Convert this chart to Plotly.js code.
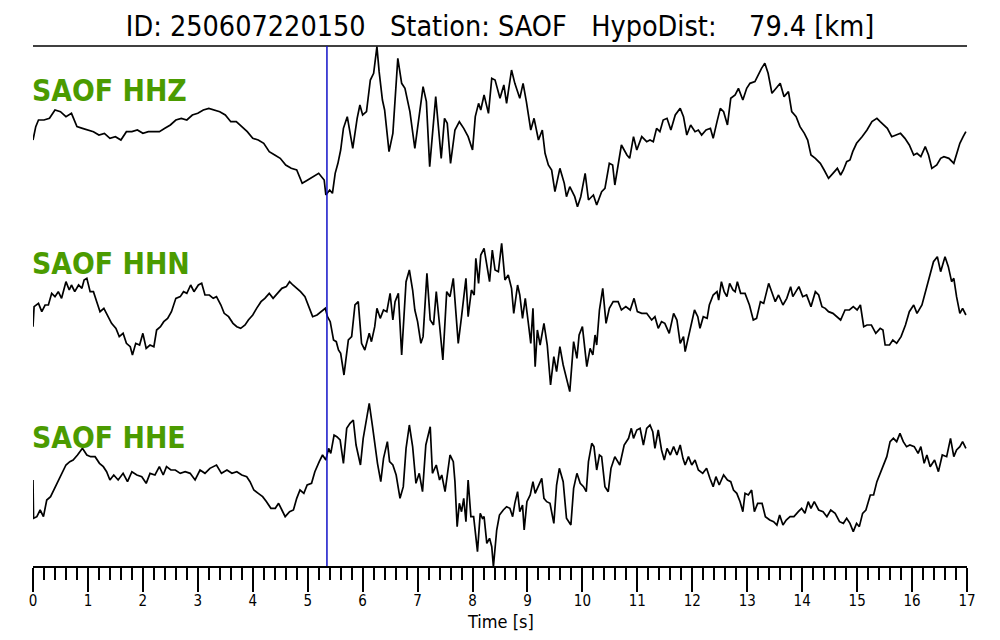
<!DOCTYPE html>
<html>
<head>
<meta charset="utf-8">
<script src="https://cdn.plot.ly/plotly-3.0.1.min.js"></script>
<style>html,body{margin:0;padding:0;background:#fff;}#chart{width:1000px;height:640px;}</style>
</head>
<body>
<div id="chart"></div>
<script>
// ---- data ----
const eventId = "250607220150";
const station = "SAOF";
const hypoDistKm = 79.4;
const channels = ["HHZ", "HHN", "HHE"];
const pPickTime = 5.35;
const xTicks = [0,1,2,3,4,5,6,7,8,9,10,11,12,13,14,15,16,17];

const hhzT = [0,0.05,0.1,0.2,0.3,0.4,0.5,0.6,0.7,0.8,0.9,1.0,1.1,1.2,1.3,1.4,1.5,1.6,1.7,1.8,1.9,2.0,2.1,2.2,2.3,2.4,2.5,2.6,2.7,2.8,2.9,3.0,3.1,3.2,3.3,3.4,3.5,3.6,3.7,3.8,3.9,4.0,4.1,4.2,4.3,4.4,4.5,4.6,4.7,4.8,4.9,5.0,5.1,5.2,5.3,5.33,5.4,5.45,5.5,5.55,5.6,5.65,5.72,5.82,5.9,5.95,6.0,6.07,6.14,6.2,6.26,6.3,6.36,6.4,6.48,6.55,6.64,6.71,6.77,6.86,6.95,7.04,7.1,7.16,7.22,7.33,7.43,7.49,7.54,7.6,7.68,7.76,7.84,7.92,8.0,8.05,8.11,8.15,8.21,8.29,8.35,8.41,8.5,8.57,8.62,8.71,8.77,8.86,8.92,8.98,9.06,9.12,9.2,9.27,9.32,9.38,9.44,9.5,9.59,9.67,9.71,9.77,9.86,9.91,9.97,10.05,10.11,10.2,10.26,10.35,10.41,10.49,10.55,10.59,10.65,10.71,10.81,10.86,10.93,10.99,11.08,11.17,11.23,11.29,11.35,11.41,11.47,11.54,11.61,11.69,11.78,11.84,11.9,11.97,12.05,12.11,12.17,12.25,12.33,12.38,12.45,12.51,12.57,12.64,12.7,12.78,12.84,12.92,12.99,13.05,13.14,13.2,13.26,13.32,13.38,13.45,13.52,13.6,13.67,13.75,13.81,13.89,13.96,14.04,14.1,14.16,14.24,14.33,14.4,14.48,14.56,14.64,14.7,14.75,14.81,14.87,14.92,14.99,15.09,15.18,15.27,15.36,15.42,15.48,15.55,15.63,15.72,15.79,15.87,15.95,16.03,16.09,16.16,16.24,16.3,16.36,16.45,16.52,16.58,16.67,16.76,16.81,16.87,16.93,16.98];
const hhzA = [-40,0,20,20,25,50,45,30,40,0,-5,-10,-15,-25,-20,-35,-30,-40,-15,-15,-10,-20,-15,-15,-15,-5,5,20,25,20,35,40,50,55,50,45,35,15,15,0,-15,-35,-40,-50,-75,-85,-95,-115,-125,-130,-170,-160,-150,-140,-160,-205,-190,-200,-140,-110,-70,-5,30,-65,25,65,35,45,140,160,240,165,80,50,-75,-20,205,130,115,45,-65,40,120,75,-120,90,-95,25,10,-110,-10,15,-5,-30,-70,30,70,50,95,40,145,140,85,125,70,170,130,85,130,75,-10,25,-40,-10,-80,-115,-130,-195,-125,-170,-210,-180,-210,-240,-210,-140,-220,-205,-235,-195,-185,-110,-115,-175,-110,-55,-85,-95,-30,-70,-30,-45,-40,-45,-5,-15,20,25,-10,35,55,30,-25,5,-15,-10,-25,-10,-5,-35,15,55,45,5,85,95,115,80,115,130,135,155,175,190,160,100,115,130,90,105,45,30,0,-20,-40,-85,-95,-110,-130,-155,-140,-125,-145,-130,-105,-100,-75,-50,-30,-10,15,25,15,5,-5,-30,-25,-20,-35,-55,-85,-80,-90,-60,-85,-125,-115,-95,-90,-95,-110,-85,-50,-30,-15];

const hhnT = [0,0.02,0.1,0.16,0.22,0.28,0.34,0.4,0.46,0.52,0.6,0.66,0.7,0.76,0.83,0.89,0.93,0.98,1.04,1.1,1.16,1.22,1.29,1.35,1.43,1.51,1.57,1.64,1.7,1.77,1.81,1.87,1.94,2.0,2.06,2.13,2.2,2.25,2.32,2.38,2.45,2.52,2.6,2.68,2.74,2.8,2.87,2.93,3.01,3.07,3.13,3.21,3.28,3.34,3.42,3.48,3.56,3.64,3.71,3.78,3.86,3.92,4.0,4.07,4.15,4.22,4.3,4.37,4.45,4.53,4.61,4.67,4.73,4.8,4.87,4.95,5.01,5.09,5.17,5.24,5.32,5.36,5.41,5.47,5.52,5.56,5.6,5.66,5.71,5.74,5.8,5.86,5.92,5.98,6.04,6.12,6.16,6.22,6.26,6.32,6.38,6.44,6.5,6.55,6.59,6.65,6.71,6.79,6.85,6.91,6.95,7.0,7.06,7.1,7.17,7.23,7.29,7.34,7.4,7.46,7.53,7.59,7.65,7.74,7.8,7.88,7.92,7.98,8.03,8.06,8.11,8.15,8.21,8.26,8.31,8.36,8.41,8.47,8.53,8.59,8.65,8.71,8.75,8.82,8.86,8.91,8.96,9.02,9.06,9.1,9.14,9.18,9.23,9.3,9.36,9.42,9.48,9.53,9.59,9.65,9.71,9.77,9.84,9.9,9.94,10.0,10.08,10.14,10.19,10.23,10.26,10.31,10.37,10.43,10.49,10.56,10.65,10.71,10.79,10.87,10.94,11.0,11.08,11.17,11.26,11.32,11.38,11.44,11.5,11.58,11.66,11.72,11.78,11.84,11.87,11.93,11.99,12.04,12.1,12.14,12.2,12.27,12.31,12.38,12.45,12.48,12.53,12.58,12.63,12.68,12.74,12.78,12.82,12.88,12.96,13.04,13.11,13.17,13.24,13.3,13.39,13.45,13.51,13.57,13.65,13.72,13.79,13.83,13.94,14.01,14.08,14.16,14.24,14.3,14.36,14.42,14.48,14.56,14.63,14.7,14.78,14.86,14.93,15.0,15.06,15.12,15.18,15.26,15.34,15.42,15.47,15.51,15.59,15.65,15.72,15.8,15.88,15.95,16.03,16.09,16.18,16.26,16.33,16.39,16.46,16.52,16.6,16.66,16.72,16.76,16.81,16.87,16.92,16.98];
const hhnA = [-30,30,40,15,35,35,70,60,75,55,105,80,95,75,95,85,110,115,75,75,45,15,25,5,-20,-35,-60,-50,-80,-90,-115,-80,-85,-50,-95,-85,-90,-40,-30,-15,-5,15,55,60,75,70,95,75,95,100,65,65,55,60,35,10,0,-20,-30,-35,-25,-10,5,25,45,55,70,55,70,85,90,105,95,85,75,60,35,0,5,15,25,0,-15,-70,-75,-100,-110,-175,-110,-70,-60,35,45,-80,-100,-50,-75,-30,25,-5,20,15,70,-10,45,70,-115,105,140,80,20,-15,-80,-60,130,-10,-25,75,-25,-130,75,60,115,-80,0,115,0,80,65,175,100,185,205,150,105,200,140,135,220,110,125,85,10,95,65,-5,55,-25,-80,25,-150,-40,-85,-20,-85,-205,-120,-165,-90,-145,-190,-225,-75,-125,-55,-30,-150,-95,-115,-55,-85,20,85,-20,25,45,45,20,30,20,55,15,10,10,-10,0,-35,-15,-20,-50,10,-10,-80,-60,-105,-60,-25,20,0,-35,0,-5,35,65,75,50,105,75,60,100,80,75,105,70,70,35,-10,-5,45,40,100,75,45,65,35,55,90,60,90,60,65,30,75,65,30,25,15,10,0,-10,20,20,30,20,35,-30,-25,-25,-50,-35,-40,-85,-85,-70,-80,-60,-25,15,35,10,35,85,130,165,180,135,180,150,105,115,60,10,25,5];

const hheT = [0,0.01,0.07,0.13,0.19,0.25,0.32,0.38,0.46,0.52,0.6,0.67,0.73,0.81,0.9,0.98,1.05,1.13,1.21,1.28,1.34,1.4,1.47,1.55,1.64,1.72,1.8,1.89,1.98,2.06,2.13,2.22,2.3,2.37,2.43,2.51,2.59,2.68,2.77,2.86,2.95,3.04,3.13,3.22,3.34,3.43,3.53,3.62,3.71,3.8,3.89,3.95,4.02,4.1,4.18,4.25,4.33,4.41,4.47,4.53,4.59,4.67,4.74,4.8,4.86,4.93,4.99,5.07,5.13,5.21,5.27,5.33,5.38,5.42,5.48,5.53,5.59,5.65,5.71,5.77,5.83,5.88,5.96,6.01,6.07,6.12,6.18,6.23,6.27,6.33,6.38,6.45,6.49,6.55,6.61,6.68,6.74,6.79,6.85,6.91,6.97,7.03,7.09,7.15,7.23,7.27,7.34,7.4,7.44,7.5,7.53,7.59,7.65,7.68,7.72,7.76,7.8,7.84,7.88,7.92,7.97,8.02,8.09,8.14,8.18,8.21,8.26,8.31,8.35,8.38,8.44,8.49,8.56,8.62,8.68,8.73,8.77,8.82,8.86,8.91,8.94,8.99,9.05,9.1,9.14,9.2,9.26,9.3,9.35,9.41,9.48,9.53,9.58,9.65,9.71,9.79,9.84,9.9,9.96,10.02,10.07,10.11,10.17,10.21,10.26,10.31,10.35,10.41,10.47,10.52,10.59,10.68,10.76,10.84,10.89,10.93,10.99,11.05,11.11,11.17,11.23,11.28,11.32,11.38,11.44,11.49,11.54,11.6,11.66,11.72,11.78,11.83,11.87,11.93,11.99,12.05,12.11,12.19,12.26,12.32,12.38,12.43,12.49,12.57,12.64,12.7,12.75,12.81,12.87,12.92,12.96,13.02,13.08,13.13,13.19,13.27,13.33,13.41,13.48,13.54,13.59,13.65,13.71,13.78,13.85,13.93,13.99,14.05,14.11,14.16,14.22,14.3,14.38,14.45,14.52,14.6,14.68,14.75,14.81,14.87,14.93,14.99,15.04,15.1,15.16,15.24,15.3,15.36,15.42,15.48,15.54,15.6,15.66,15.72,15.78,15.84,15.9,15.96,16.04,16.11,16.16,16.22,16.27,16.33,16.41,16.48,16.55,16.63,16.7,16.76,16.81,16.87,16.92,16.98];
const hheA = [5,-110,-105,-85,-105,-55,-45,-25,0,20,50,60,65,80,100,80,75,75,55,45,30,5,20,5,25,0,30,20,15,-5,25,20,45,20,45,35,35,25,30,25,5,35,25,40,50,25,35,25,30,20,15,0,-25,-35,-45,-60,-80,-80,-65,-85,-105,-90,-85,-50,-25,-35,-10,-5,30,60,80,65,100,85,140,135,125,55,160,175,185,110,50,130,190,235,165,100,55,0,70,120,60,50,20,-50,-15,100,170,105,-5,25,-30,110,165,25,50,5,20,-30,5,80,60,0,-135,-65,-90,-50,-120,5,-105,-105,-210,-95,-110,-105,-185,-170,-195,-255,-145,-100,-85,-75,-80,-105,-65,-30,-90,-70,-145,-60,-40,0,-35,-10,10,-50,-60,-65,-125,-10,40,0,-110,-130,-20,25,-5,-15,-30,60,115,105,35,80,75,-15,-30,40,75,50,110,130,160,130,155,160,110,160,170,150,100,155,95,65,100,80,105,80,110,70,50,75,50,65,35,25,40,10,-15,15,-10,20,5,0,-25,-35,-60,-90,-35,-40,-25,-90,-65,-65,-105,-115,-120,-130,-100,-130,-115,-105,-105,-90,-80,-95,-60,-80,-60,-85,-90,-105,-85,-95,-120,-125,-110,-125,-150,-125,-135,-95,-85,-40,-40,0,25,50,75,120,130,120,145,120,105,110,105,85,105,55,80,45,65,30,80,75,130,75,95,105,120,100];

// ---- layout helpers (positions/styles) ----
const offsets = [1318, 748, 253];
const series = [[hhzT, hhzA], [hhnT, hhnA], [hheT, hheA]];
const green = '#4b9b00';
const condensed = '"DejaVu Sans Condensed", "DejaVu Sans", sans-serif';

const traces = series.map((s, i) => ({
  x: s[0],
  y: s[1].map(v => v + offsets[i]),
  type: 'scatter',
  mode: 'lines',
  line: {color: '#000', width: 1.7},
  hoverinfo: 'skip',
  showlegend: false
}));

const labelY = [0.9135, 0.5808, 0.2471];
const annotations = channels.map((c, i) => ({
  text: station + ' ' + c,
  xref: 'paper', yref: 'paper',
  x: 0, y: labelY[i], xshift: -3,
  xanchor: 'left', yanchor: 'middle',
  showarrow: false,
  font: {family: condensed, size: 29.8, color: green, weight: 'bold'}
}));
annotations.push({
  text: 'Time [s]',
  xref: 'paper', yref: 'paper',
  x: 0.5, y: -0.106,
  xanchor: 'center', yanchor: 'middle',
  showarrow: false,
  font: {family: condensed, size: 18, color: '#000'}
});

const layout = {
  width: 1000, height: 640,
  paper_bgcolor: '#fff', plot_bgcolor: '#fff',
  margin: {l: 33, r: 33, t: 46, b: 74},
  title: {
    text: 'ID: ' + eventId + '   Station: ' + station + '   HypoDist:    ' + hypoDistKm.toFixed(1) + ' [km]',
    font: {family: condensed, size: 28.5, color: '#000'},
    x: 0.5, xanchor: 'center', y: 0.96, yref: 'container', yanchor: 'middle'
  },
  xaxis: {
    range: [0, 17],
    tickvals: xTicks,
    ticktext: xTicks.map(String),
    ticks: 'outside', ticklen: 24, tickwidth: 2, tickcolor: '#000',
    minor: {dtick: 0.2, ticks: 'outside', ticklen: 12, tickwidth: 2, tickcolor: '#000', showgrid: false},
    showline: true, linecolor: '#000', linewidth: 2,
    showgrid: false, zeroline: false,
    tickfont: {family: condensed, size: 15, color: '#000'},
    ticklabelstandoff: -4,
    fixedrange: true
  },
  yaxis: {
    range: [0, 1560], visible: false, fixedrange: true
  },
  shapes: [
    {type: 'line', xref: 'paper', yref: 'paper', x0: 0, x1: 1, y0: 1, y1: 1, line: {color: '#000', width: 1.5}},
    {type: 'line', xref: 'x', yref: 'paper', x0: pPickTime, x1: pPickTime, y0: 0, y1: 1, line: {color: '#1010c8', width: 1.5}}
  ],
  annotations: annotations
};

Plotly.newPlot('chart', traces, layout, {staticPlot: true, displayModeBar: false});
</script>
</body>
</html>
